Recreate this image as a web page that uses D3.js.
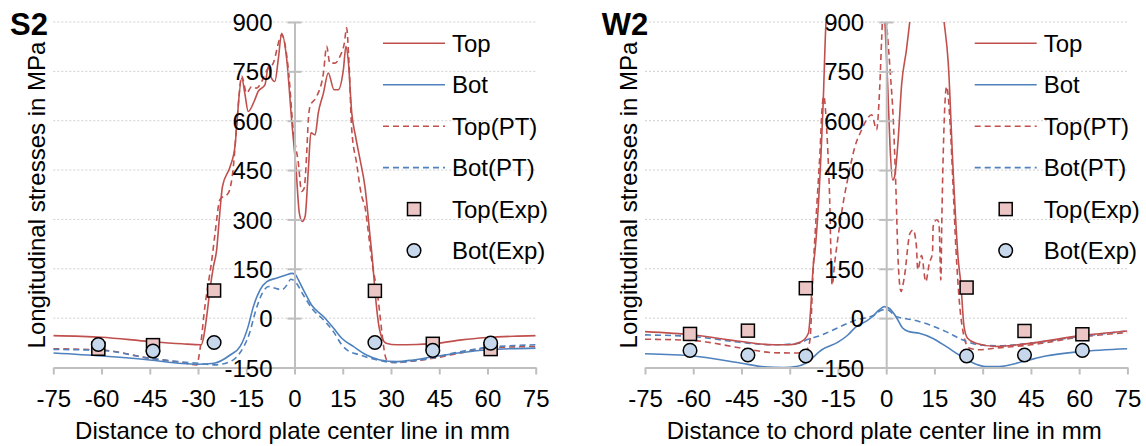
<!DOCTYPE html>
<html>
<head>
<meta charset="utf-8">
<script src="https://cdn.jsdelivr.net/npm/d3@7"></script>
<style>
body { margin: 0; background: #fff; }
text { font-family: "Liberation Sans", Arial, sans-serif; fill: #000; }
</style>
</head>
<body>
<div id="chart"></div>
<script>
// ---- data (x in mm, stress in MPa) ----
const xTicks = [-75, -60, -45, -30, -15, 0, 15, 30, 45, 60, 75];
const yTicks = [-150, 0, 150, 300, 450, 600, 750, 900];
const legendNames = ["Top", "Bot", "Top(PT)", "Bot(PT)", "Top(Exp)", "Bot(Exp)"];
const panelNames = ["S2", "W2"];

// S2
const s2Top = [[-75,-53],[-60,-58],[-45,-71],[-35,-78],[-29,-81],[-28.3,-60],[-27.3,5],[-26.3,86],[-25.2,157],[-24.2,208],[-23.4,300],[-22.4,400],[-20.0,461],[-18.5,522],[-18.0,583],[-16.4,730],[-15.4,680],[-14.4,628],[-12.5,660],[-11.3,689],[-9.2,709],[-8.1,765],[-7.2,730],[-6.1,719],[-5.0,790],[-4.0,866],[-2.4,785],[-0.9,603],[0.5,451],[1.5,319],[2.4,294],[3.3,309],[4.3,451],[5.1,563],[6.4,557],[7.4,624],[9.0,684],[10.5,745],[12.3,694],[13.6,694],[15.2,755],[16.0,826],[16.7,785],[17.8,624],[19.0,552],[20.4,481],[21.9,400],[23.5,248],[24.3,170],[25.0,86],[26.1,-15],[27.2,-60],[28.5,-76],[31.8,-81],[38,-80],[45,-76],[52,-66],[60,-59],[68,-55],[75,-53]];
const s2TopPT = [[-75,-93],[-60,-97],[-45,-122],[-35,-135],[-30.4,-142],[-29.4,-96],[-27.8,40],[-25.7,178],[-24.7,258],[-23.2,360],[-20.6,380],[-19.0,461],[-18.0,583],[-16.4,735],[-14.9,684],[-13.3,704],[-11.8,699],[-10.2,719],[-8.5,755],[-6.6,775],[-4.7,846],[-4.0,861],[-1.9,755],[-0.4,573],[1.2,471],[2.2,385],[3.0,395],[3.8,502],[4.3,603],[4.8,643],[6.9,674],[9.0,745],[10.0,826],[11.0,775],[12.6,775],[14.1,795],[15.5,836],[16.2,882],[16.9,785],[17.8,573],[19.3,471],[20.9,370],[21.9,339],[23.0,258],[24.0,177],[25.6,86],[28.7,-127],[31.2,-135],[37,-130],[43.2,-122],[52,-105],[60,-91],[75,-86]];
const s2Bot = [[-75,-106],[-60,-115],[-45,-127],[-35,-138],[-30,-140],[-25,-137],[-20,-112],[-16.9,-86],[-14.4,-25],[-12.8,35],[-10.7,86],[-8.6,111],[-5.5,122],[-2.4,132],[-0.9,136],[0.3,132],[1.2,116],[3.3,76],[5.3,40],[9.0,5],[12.1,-30],[14.7,-61],[18.3,-86],[22.4,-112],[26.6,-127],[31.8,-132],[36.9,-127],[43.2,-117],[51.5,-105],[60,-96],[75,-91]];
const s2BotPT = [[-75,-95],[-60,-98],[-45,-122],[-35,-133],[-30,-137],[-25,-142],[-20,-132],[-17,-106],[-14,-46],[-12,25],[-10,76],[-8,96],[-6,91],[-4,86],[-2,106],[-1.2,118],[0.2,111],[2.7,71],[5.8,25],[9.0,-5],[12.1,-41],[14.7,-81],[16.2,-96],[20.4,-112],[26.6,-129],[31.2,-135],[36.9,-130],[43.2,-120],[51.5,-102],[60,-89],[75,-81]];
const s2ExpX = [-61, -44, -25, 25, 43, 61];
const s2ExpTop = [-93, -82, 84, 83, -78, -94];
const s2ExpBot = [-80, -100, -74, -74, -98, -76];

// W2
const w2Top = [[-75,-41],[-60,-51],[-45,-71],[-35,-81],[-30,-81],[-26.3,-71],[-24.2,-46],[-23.5,25],[-22.7,157],[-22.2,198],[-19.6,654],[-18.7,900],[-15,1150],[-8,1200],[-2,1050],[-0.4,900],[0.5,700],[1.2,520],[2.0,420],[2.6,430],[3.7,540],[4.8,710],[6.3,816],[7.4,907],[10,1100],[14,1150],[18,900],[19.3,775],[20.8,451],[22.4,178],[23.2,106],[24.2,-25],[25.3,-61],[27.9,-76],[34.1,-86],[45,-76],[60,-54],[75,-39]];
const w2TopPT = [[-75,-64],[-60,-68],[-45,-91],[-35,-105],[-27.8,-106],[-24.7,-96],[-23.7,-66],[-22.7,150],[-21.6,339],[-20.6,502],[-19.9,643],[-19.4,674],[-18.5,573],[-17.7,400],[-16.8,100],[-16.0,170],[-15.2,230],[-14.2,300],[-11.8,431],[-9.7,522],[-7.6,573],[-6.1,603],[-4.5,618],[-3.0,573],[-2.0,704],[-1.4,851],[-0.9,950],[-0.3,950],[0.1,900],[1.2,755],[2.2,603],[3.0,400],[3.7,177],[4.6,81],[5.6,122],[7.4,258],[8.4,268],[9.4,218],[9.8,147],[11.0,190],[12.3,111],[13.4,167],[14.4,198],[14.6,279],[15.7,299],[16.4,290],[17.0,116],[17.3,299],[18.8,704],[19.8,603],[20.8,400],[21.7,208],[22.7,56],[24.2,-56],[25.8,-91],[28.9,-96],[34.1,-91],[45,-81],[60,-58],[75,-44]];
const w2Bot = [[-75,-108],[-60,-115],[-45,-137],[-38,-148],[-32,-150],[-28,-147],[-25,-137],[-20,-96],[-15,-73],[-12,-52],[-9.5,-27],[-6.3,-10],[-4.2,5],[-2.2,25],[-0.6,35],[0.9,30],[3.0,5],[5.1,-30],[7.1,-41],[10.3,-46],[14.4,-61],[18.6,-86],[22.7,-112],[26.8,-135],[31.0,-147],[35.1,-147],[42.5,-132],[49.6,-115],[60,-102],[75,-93]];
const w2BotPT = [[-75,-51],[-60,-56],[-45,-74],[-35,-81],[-27,-76],[-24.7,-66],[-20,-51],[-16.5,-36],[-9.2,-5],[-4.0,8],[-1.1,25],[0.4,25],[3.0,5],[8.2,-5],[13.4,-20],[18.6,-41],[23.7,-66],[28.9,-81],[34.1,-84],[45,-76],[60,-56],[75,-39]];
const w2ExpX = [-61, -43, -25, 25, 43, 61];
const w2ExpTop = [-48, -38, 91, 93, -39, -49];
const w2ExpBot = [-98, -112, -115, -115, -112, -98];

// ---- layout ----
const width = 1146, height = 446;
const plotW = 482.4;
const yTop = 22, yBottom = 367.5;
const red = "#c0504d", blue = "#4f81bd";
const sqFill = "#ebc6c5", circFill = "#c8d8ec";
const fontSize = "24px";

const svg = d3.select("#chart")
    .append("svg")
    .attr("width", width)
    .attr("height", height);

const panels = [
    {name: panelNames[0], left: 53.3, top: s2Top, bot: s2Bot, topPT: s2TopPT, botPT: s2BotPT,
     expX: s2ExpX, expTop: s2ExpTop, expBot: s2ExpBot},
    {name: panelNames[1], left: 645, top: w2Top, bot: w2Bot, topPT: w2TopPT, botPT: w2BotPT,
     expX: w2ExpX, expTop: w2ExpTop, expBot: w2ExpBot}
];

// plain hyphen for negative numbers, like the original
const fmt = d => String(d);

function drawPanel(p, i) {
    const g = svg.append("g").attr("transform", `translate(${p.left},0)`);
    const x = d3.scaleLinear().domain([-75, 75]).range([0, plotW]);
    const y = d3.scaleLinear().domain([-150, 900]).range([yBottom, yTop]);

    // gridlines
    g.selectAll(".grid")
        .data(yTicks.filter(d => d > -150))
        .join("line")
        .attr("x1", 0).attr("x2", plotW)
        .attr("y1", d => y(d)).attr("y2", d => y(d))
        .attr("stroke", "#cfcfcf")
        .attr("stroke-width", 1)
        .attr("stroke-dasharray", "2,2");

    // clip
    const clipId = "clip" + i;
    g.append("clipPath").attr("id", clipId)
        .append("rect")
        .attr("x", 0).attr("y", yTop)
        .attr("width", plotW).attr("height", yBottom - yTop);

    const line = d3.line()
        .x(d => x(d[0]))
        .y(d => y(d[1]))
        .curve(d3.curveMonotoneX);

    const series = [
        {data: p.top, color: red, dash: null},
        {data: p.bot, color: blue, dash: null},
        {data: p.topPT, color: red, dash: "6,4"},
        {data: p.botPT, color: blue, dash: "6,4"}
    ];

    const lg = g.append("g").attr("clip-path", `url(#${clipId})`);
    // dashed first, solid on top
    [2, 3, 0, 1].forEach(k => {
        const s = series[k];
        lg.append("path")
            .attr("d", line(s.data))
            .attr("fill", "none")
            .attr("stroke", s.color)
            .attr("stroke-width", 1.6)
            .attr("stroke-dasharray", s.dash);
    });

    // x axis
    const xAxis = g.append("g")
        .attr("transform", `translate(0,${yBottom})`)
        .call(d3.axisBottom(x).tickValues(xTicks).tickFormat(fmt)
            .tickSizeInner(7).tickSizeOuter(0).tickPadding(15));
    xAxis.select(".domain").attr("stroke", "#bfbfbf").attr("stroke-width", 2);
    xAxis.selectAll(".tick line").attr("stroke", "#bfbfbf").attr("stroke-width", 2);
    xAxis.selectAll(".tick text")
        .style("font-size", fontSize)
        .style("font-family", "'Liberation Sans', Arial, sans-serif")
        .attr("fill", "#000");

    // y axis at x = 0
    const yAxis = g.append("g")
        .attr("transform", `translate(${x(0)},0)`)
        .call(d3.axisLeft(y).tickValues(yTicks).tickFormat(fmt)
            .tickSizeInner(7).tickSizeOuter(0).tickPadding(15));
    yAxis.select(".domain").attr("stroke", "#bfbfbf").attr("stroke-width", 2);
    yAxis.selectAll(".tick line")
        .attr("x1", -7).attr("x2", 7)
        .attr("stroke", "#bfbfbf").attr("stroke-width", 2);
    yAxis.selectAll(".tick text")
        .attr("dy", "0.36em")
        .style("font-size", fontSize)
        .style("font-family", "'Liberation Sans', Arial, sans-serif")
        .attr("fill", "#000");

    // experimental markers
    const exp = p.expX.map((v, j) => ({x: v, top: p.expTop[j], bot: p.expBot[j]}));
    g.selectAll(".sq").data(exp).join("rect")
        .attr("x", d => x(d.x) - 6.5).attr("y", d => y(d.top) - 6.5)
        .attr("width", 13).attr("height", 13)
        .attr("fill", sqFill).attr("stroke", "#000").attr("stroke-width", 1.5);
    g.selectAll(".ci").data(exp).join("circle")
        .attr("cx", d => x(d.x)).attr("cy", d => y(d.bot)).attr("r", 6.8)
        .attr("fill", circFill).attr("stroke", "#000").attr("stroke-width", 1.5);

    // legend
    const legX = 329.7, legStep = 41.45, legY0 = 43.3;
    const leg = g.append("g");
    legendNames.forEach((name, k) => {
        const ly = legY0 + k * legStep;
        if (k < 4) {
            const s = series[k];
            leg.append("line")
                .attr("x1", legX).attr("x2", legX + 62)
                .attr("y1", ly).attr("y2", ly)
                .attr("stroke", s.color).attr("stroke-width", 1.6)
                .attr("stroke-dasharray", s.dash);
        } else if (k === 4) {
            leg.append("rect")
                .attr("x", legX + 31 - 6.5).attr("y", ly - 6.5)
                .attr("width", 13).attr("height", 13)
                .attr("fill", sqFill).attr("stroke", "#000").attr("stroke-width", 1.5);
        } else {
            leg.append("circle")
                .attr("cx", legX + 31).attr("cy", ly).attr("r", 6.8)
                .attr("fill", circFill).attr("stroke", "#000").attr("stroke-width", 1.5);
        }
        leg.append("text")
            .attr("x", legX + 69).attr("y", ly)
            .attr("dy", "0.36em")
            .style("font-size", fontSize)
            .text(name);
    });

    // axis titles
    g.append("text")
        .attr("x", x(0) - 2).attr("y", 439)
        .attr("text-anchor", "middle")
        .style("font-size", fontSize)
        .text("Distance to chord plate center line in mm");

    g.append("text")
        .attr("transform", `translate(-8.5,195) rotate(-90)`)
        .attr("text-anchor", "middle")
        .style("font-size", fontSize)
        .text("Longitudinal stresses in MPa");

    // panel title
    g.append("text")
        .attr("x", -43.3).attr("y", 35)
        .style("font-size", "31px")
        .style("font-weight", "bold")
        .text(p.name);
}

panels.forEach(drawPanel);
</script>
</body>
</html>
